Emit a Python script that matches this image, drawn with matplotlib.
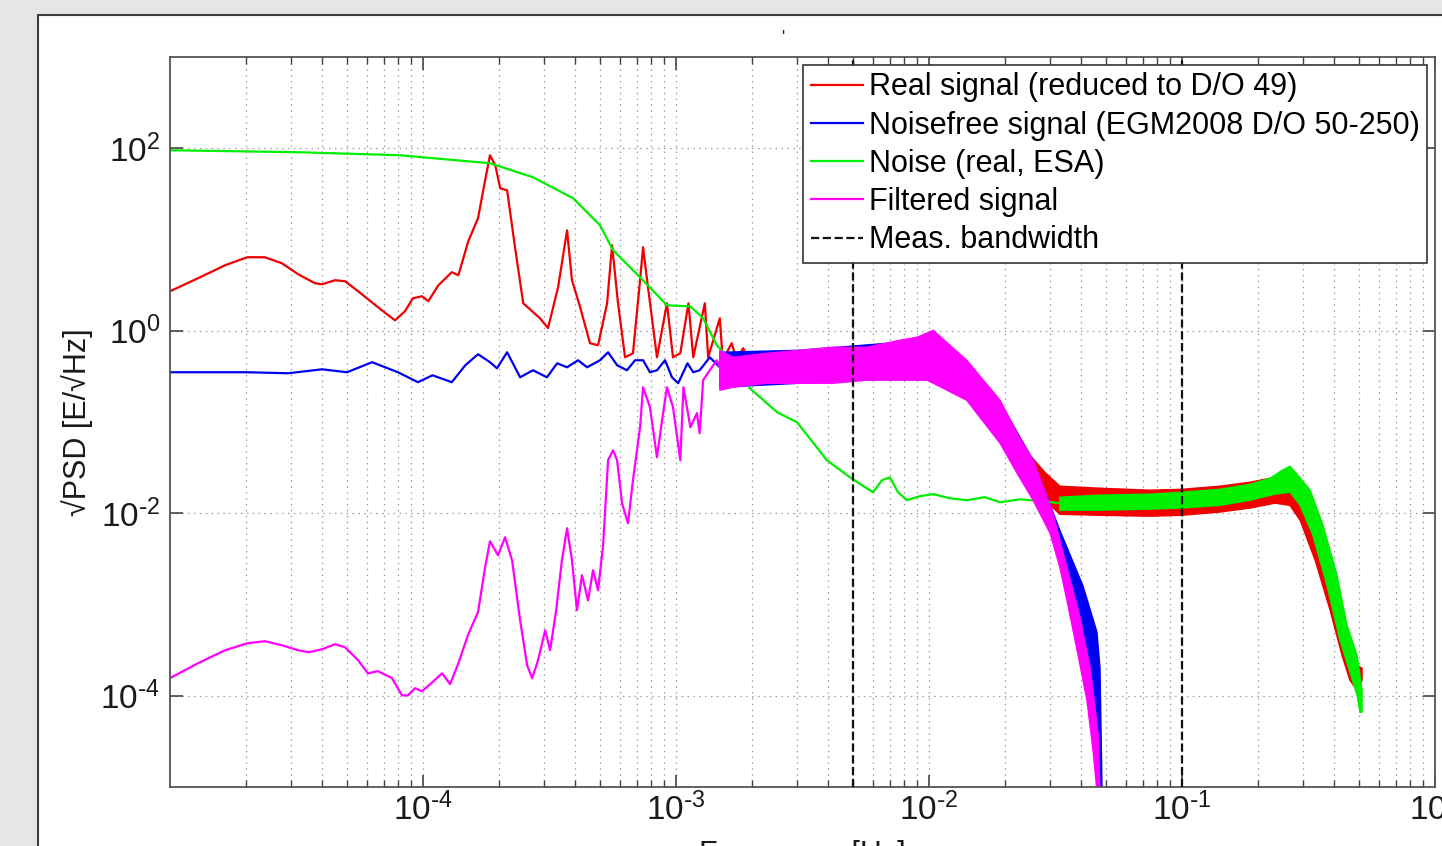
import numpy as np
import matplotlib.pyplot as plt
from matplotlib.patches import Rectangle
from matplotlib.ticker import LogLocator, NullFormatter, NullLocator, FuncFormatter

plt.rcParams['font.family'] = ['Liberation Sans', 'DejaVu Sans']
plt.rcParams['mathtext.default'] = 'regular'

# ---- values (frequency [Hz], sqrt(PSD) [E/sqrt(Hz)]) ----

# real signal, low frequency part
red_f = [1.00e-5, 1.29e-5, 1.65e-5, 2.02e-5, 2.37e-5, 2.77e-5, 3.21e-5, 3.74e-5, 3.99e-5, 4.49e-5,
         4.92e-5, 5.54e-5, 6.64e-5, 7.75e-5, 8.49e-5, 9.13e-5, 9.91e-5, 1.05e-4, 1.15e-4, 1.30e-4,
         1.38e-4, 1.51e-4, 1.65e-4, 1.76e-4, 1.84e-4, 1.93e-4, 2.02e-4, 2.15e-4, 2.31e-4, 2.49e-4,
         2.90e-4, 3.12e-4, 3.42e-4, 3.71e-4, 3.88e-4, 4.18e-4, 4.57e-4, 4.92e-4, 5.34e-4, 5.59e-4,
         5.90e-4, 6.29e-4, 6.76e-4, 7.21e-4, 7.41e-4, 7.75e-4, 8.41e-4, 9.21e-4, 9.73e-4, 1.04e-3,
         1.12e-3, 1.17e-3, 1.30e-3, 1.34e-3, 1.49e-3, 1.53e-3, 1.66e-3, 1.74e-3, 1.84e-3, 1.96e-3]
red_v = [2.71, 3.76, 5.22, 6.39, 6.39, 5.49, 4.16, 3.32, 3.23, 3.58,
         3.49, 2.71, 1.81, 1.30, 1.64, 2.27, 2.39, 2.11, 3.15, 4.38,
         4.06, 9.57, 17.1, 44.6, 83.8, 65.1, 36.4, 34.6, 8.23, 2.00,
         1.37, 1.07, 3.00, 12.6, 3.58, 1.81, 0.730, 0.694, 2.00, 8.65,
         2.00, 0.512, 0.567, 3.58, 8.23, 3.00, 0.512, 2.00, 0.512, 0.567,
         2.00, 0.512, 2.00, 0.512, 1.37, 0.475, 0.730, 0.475, 0.643, 0.475]

# real signal, noisy high frequency band (upper / lower envelope)
red_up_f = [2.51e-2, 2.87e-2, 3.29e-2, 4.74e-2, 7.47e-2, 0.100, 0.141, 0.186, 0.223, 0.267,
            0.293, 0.336, 0.385, 0.441, 0.470, 0.515, 0.515]
red_up_v = [4.32e-2, 2.81e-2, 1.98e-2, 1.88e-2, 1.79e-2, 1.83e-2, 1.98e-2, 2.19e-2, 2.42e-2, 2.68e-2,
            2.30e-2, 8.38e-3, 2.37e-3, 4.60e-4, 2.33e-4, 2.00e-4, 1.48e-4]
red_lo_f = [2.51e-2, 2.87e-2, 3.29e-2, 4.74e-2, 7.47e-2, 0.100, 0.141, 0.186, 0.233, 0.267,
            0.293, 0.336, 0.385, 0.429, 0.461, 0.492]
red_lo_v = [2.30e-2, 1.39e-2, 9.75e-3, 9.50e-3, 9.27e-3, 9.50e-3, 1.03e-2, 1.14e-2, 1.29e-2, 1.22e-2,
            8.38e-3, 3.05e-3, 8.65e-4, 2.78e-4, 1.48e-4, 1.15e-4]

# noisefree signal
blue_f = [1.00e-5, 2.02e-5, 2.93e-5, 3.99e-5, 5.01e-5, 6.29e-5, 7.96e-5, 9.55e-5, 1.09e-4, 1.30e-4,
          1.47e-4, 1.65e-4, 1.84e-4, 1.96e-4, 2.15e-4, 2.42e-4, 2.72e-4, 3.09e-4, 3.39e-4, 3.71e-4,
          4.10e-4, 4.45e-4, 5.01e-4, 5.39e-4, 5.85e-4, 6.40e-4, 6.89e-4, 7.41e-4, 7.89e-4, 8.41e-4,
          9.05e-4, 9.64e-4, 1.02e-3, 1.11e-3, 1.17e-3, 1.24e-3, 1.36e-3, 1.49e-3]
blue_v = [0.351, 0.351, 0.342, 0.378, 0.351, 0.452, 0.351, 0.273, 0.325, 0.273,
          0.419, 0.553, 0.452, 0.388, 0.581, 0.309, 0.369, 0.309, 0.440, 0.398,
          0.475, 0.398, 0.475, 0.581, 0.419, 0.369, 0.475, 0.475, 0.351, 0.369,
          0.475, 0.309, 0.266, 0.440, 0.351, 0.369, 0.512, 0.398]
blue_up_f = [1.49e-3, 3.09e-3, 7.68e-3, 1.04e-2, 1.41e-2, 1.91e-2, 2.58e-2, 3.29e-2, 4.06e-2, 4.61e-2,
             4.74e-2, 4.83e-2]
blue_up_v = [0.581, 0.611, 0.748, 0.939, 0.452, 0.165, 3.81e-2, 6.5e-3, 1.6e-3, 5.0e-4,
             2.05e-4, 9.2e-6]
blue_lo_f = [1.49e-3, 3.09e-3, 7.68e-3, 1.04e-2, 1.41e-2, 1.91e-2, 2.58e-2, 3.15e-2, 3.61e-2, 4.14e-2,
             4.45e-2, 4.66e-2]
blue_lo_v = [0.240, 0.266, 0.302, 0.287, 0.182, 6.31e-2, 1.58e-2, 5.06e-3, 1.43e-3, 4.06e-4,
             8.93e-5, 9.2e-6]

# noise
green_f = [1.00e-5, 3.26e-5, 8.11e-5, 1.84e-4, 2.72e-4, 3.92e-4, 5.01e-4, 5.64e-4, 7.41e-4, 9.21e-4,
           1.14e-3, 1.28e-3, 1.45e-3, 1.68e-3, 1.96e-3, 2.51e-3, 3.01e-3, 3.95e-3, 4.87e-3, 5.43e-3,
           6.01e-3, 6.52e-3, 7.01e-3, 7.54e-3, 8.18e-3, 9.21e-3, 1.04e-2, 1.21e-2, 1.41e-2, 1.66e-2,
           1.91e-2, 2.29e-2, 2.75e-2, 3.29e-2]
green_v = [95.1, 90.4, 83.8, 68.5, 48.1, 28.3, 14.3, 7.62, 3.57, 1.90,
           1.85, 1.37, 0.693, 0.452, 0.234, 0.128, 0.0993, 0.0381, 0.0248, 0.0203,
           0.0170, 0.0230, 0.0248, 0.0170, 0.0139, 0.0154, 0.0162, 0.0146, 0.0139, 0.0150,
           0.0132, 0.0142, 0.0136, 0.0129]
green_up_f = [3.29e-2, 4.74e-2, 7.47e-2, 0.100, 0.141, 0.186, 0.223, 0.249, 0.267, 0.287,
              0.321, 0.361, 0.410, 0.449, 0.492, 0.515, 0.515]
green_up_v = [1.50e-2, 1.58e-2, 1.62e-2, 1.70e-2, 1.83e-2, 2.08e-2, 2.42e-2, 2.96e-2, 3.27e-2, 2.61e-2,
              1.79e-2, 7.39e-3, 2.09e-3, 5.92e-4, 2.78e-4, 1.15e-4, 6.60e-5]
green_lo_f = [3.29e-2, 4.74e-2, 7.47e-2, 0.100, 0.141, 0.186, 0.233, 0.267, 0.293, 0.329,
              0.374, 0.421, 0.461, 0.492, 0.505]
green_lo_v = [1.08e-2, 1.08e-2, 1.11e-2, 1.14e-2, 1.22e-2, 1.39e-2, 1.62e-2, 1.70e-2, 1.22e-2, 5.74e-3,
              1.63e-3, 4.06e-4, 1.81e-4, 1.01e-4, 6.60e-5]

# filtered signal
mag_f = [1.00e-5, 1.29e-5, 1.65e-5, 2.02e-5, 2.37e-5, 2.77e-5, 3.21e-5, 3.54e-5, 3.99e-5, 4.49e-5,
         4.92e-5, 5.54e-5, 6.06e-5, 6.64e-5, 7.54e-5, 8.26e-5, 8.72e-5, 9.30e-5, 9.91e-5, 1.09e-4,
         1.19e-4, 1.28e-4, 1.38e-4, 1.51e-4, 1.65e-4, 1.76e-4, 1.84e-4, 1.98e-4, 2.11e-4, 2.25e-4,
         2.42e-4, 2.58e-4, 2.70e-4, 2.85e-4, 3.04e-4, 3.18e-4, 3.36e-4, 3.54e-4, 3.71e-4, 3.88e-4,
         4.06e-4, 4.25e-4, 4.49e-4, 4.70e-4, 4.92e-4, 5.15e-4, 5.39e-4, 5.64e-4, 5.85e-4, 6.12e-4,
         6.46e-4, 6.76e-4, 7.21e-4, 7.41e-4, 7.89e-4, 8.41e-4, 8.81e-4, 9.21e-4, 9.73e-4, 1.04e-3,
         1.07e-3, 1.14e-3, 1.21e-3, 1.24e-3, 1.28e-3, 1.36e-3, 1.45e-3, 1.49e-3]
mag_v = [1.56e-4, 2.27e-4, 3.15e-4, 3.76e-4, 3.96e-4, 3.58e-4, 3.15e-4, 3.00e-4, 3.23e-4, 3.67e-4,
         3.40e-4, 2.45e-4, 1.76e-4, 1.86e-4, 1.56e-4, 1.01e-4, 1.01e-4, 1.21e-4, 1.12e-4, 1.41e-4,
         1.76e-4, 1.34e-4, 2.27e-4, 4.72e-4, 8.23e-4, 2.56e-3, 4.93e-3, 3.46e-3, 5.46e-3, 3.05e-3,
         6.72e-4, 2.16e-4, 1.56e-4, 2.45e-4, 5.22e-4, 3.15e-4, 8.65e-4, 3.05e-3, 6.85e-3, 3.05e-3,
         8.65e-4, 2.09e-3, 1.11e-3, 2.37e-3, 1.43e-3, 4.46e-3, 3.81e-2, 4.90e-2, 3.81e-2, 1.29e-2,
         7.77e-3, 2.30e-2, 8.76e-2, 0.240, 0.145, 4.11e-2, 0.105, 0.240, 0.145, 3.81e-2,
         0.240, 8.76e-2, 0.125, 7.53e-2, 0.287, 0.369, 0.475, 0.398]
mag_up_f = [1.49e-3, 1.68e-3, 2.29e-3, 3.09e-3, 4.17e-3, 5.69e-3, 7.68e-3, 8.97e-3, 1.04e-2, 1.21e-2,
            1.41e-2, 1.91e-2, 2.23e-2, 2.58e-2, 3.09e-2, 3.51e-2, 3.95e-2, 4.33e-2, 4.66e-2, 4.74e-2]
mag_up_v = [0.611, 0.512, 0.567, 0.611, 0.660, 0.660, 0.787, 0.849, 1.01, 0.694,
            0.475, 0.173, 7.53e-2, 3.81e-2, 1.00e-2, 2.56e-3, 7.25e-4, 2.05e-4, 3.88e-5, 9.2e-6]
mag_lo_f = [1.49e-3, 1.68e-3, 2.29e-3, 3.09e-3, 4.17e-3, 5.69e-3, 7.68e-3, 9.82e-3, 1.04e-2, 1.41e-2,
            1.91e-2, 2.23e-2, 2.58e-2, 3.01e-2, 3.29e-2, 3.51e-2, 3.85e-2, 4.21e-2, 4.45e-2, 4.61e-2]
mag_lo_v = [0.223, 0.240, 0.266, 0.266, 0.266, 0.287, 0.287, 0.287, 0.266, 0.173,
            5.85e-2, 2.74e-2, 1.39e-2, 6.04e-3, 2.56e-3, 1.11e-3, 3.15e-4, 8.93e-5, 2.53e-5, 9.2e-6]

bandwidth = [5e-3, 1e-1]
labels = ['Real signal (reduced to D/O 49)', 'Noisefree signal (EGM2008 D/O 50-250)',
          'Noise (real, ESA)', 'Filtered signal', 'Meas. bandwidth']


def band(ax, fu, vu, fl, vl, color, z):
    xs = np.concatenate([fu, fl[::-1]])
    ys = np.concatenate([vu, vl[::-1]])
    ax.fill(xs, ys, facecolor=color, edgecolor=color, lw=1.0, zorder=z)


def pow10(v, pos):
    e = int(round(np.log10(v)))
    if e < 0:
        return r'$10^{\text{-}%d}$' % (-e)
    return r'$10^{%d}$' % e


def main():
    fig = plt.figure(figsize=(14.42, 8.46), dpi=100, facecolor='#e6e6e6')
    fig.add_artist(Rectangle((38 / 1442, -0.1), 1.2, 1.1 - 15 / 846, transform=fig.transFigure,
                             facecolor='white', edgecolor='#3c3c3c', lw=1.5, zorder=-1))
    ax = fig.add_axes([170 / 1442, 59 / 846, 1265 / 1442, 730 / 846])
    ax.set_xscale('log')
    ax.set_yscale('log')

    cr, cb, cg, cm = '#f00000', '#0000f0', '#00ee00', '#ff00ff'
    lw = 1.6
    h_red, = ax.plot(red_f, red_v, color=cr, lw=lw, zorder=2)
    band(ax, red_up_f, red_up_v, red_lo_f, red_lo_v, cr, 2)
    h_blue, = ax.plot(blue_f, blue_v, color=cb, lw=lw, zorder=2.1)
    band(ax, blue_up_f, blue_up_v, blue_lo_f, blue_lo_v, cb, 2.1)
    h_green, = ax.plot(green_f, green_v, color=cg, lw=lw, zorder=2.2)
    band(ax, green_up_f, green_up_v, green_lo_f, green_lo_v, cg, 2.2)
    h_mag, = ax.plot(mag_f, mag_v, color=cm, lw=lw, zorder=2.3)
    band(ax, mag_up_f, mag_up_v, mag_lo_f, mag_lo_v, cm, 2.3)
    h_bw = None
    for f in bandwidth:
        h_bw = ax.axvline(f, color='#111111', ls='--', lw=1.6, zorder=4)

    ax.set_xlim(1e-5, 1)
    ax.set_ylim(1e-5, 1e3)
    ax.set_xticks([1e-4, 1e-3, 1e-2, 1e-1, 1])
    ax.xaxis.set_minor_locator(LogLocator(base=10, subs=np.arange(2, 10), numticks=30))
    ax.xaxis.set_minor_formatter(NullFormatter())
    ax.set_yticks([1e-4, 1e-2, 1, 1e2])
    ax.yaxis.set_minor_locator(NullLocator())
    ax.xaxis.set_major_formatter(FuncFormatter(pow10))
    ax.yaxis.set_major_formatter(FuncFormatter(pow10))

    ax.set_axisbelow(True)
    ax.grid(True, which='major', axis='both', color='#9a9a9a', ls=(0, (1.2, 3.5)), lw=0.9)
    ax.grid(True, which='minor', axis='x', color='#9a9a9a', ls=(0, (1.2, 3.5)), lw=0.9)

    ax.tick_params(which='both', direction='in', top=True, right=True, color='#444444',
                   labelsize=24, labelcolor='#1a1a1a')
    ax.tick_params(which='major', length=9, width=1.2)
    ax.tick_params(which='minor', length=5, width=1.0)
    ax.tick_params(axis='x', pad=4)
    ax.tick_params(axis='y', pad=7)
    for s in ax.spines.values():
        s.set_color('#555555')
        s.set_linewidth(1.3)

    ax.set_ylabel('√PSD [E/√Hz]', fontsize=22, labelpad=5, color='#1a1a1a')
    ax.set_xlabel('Frequency [Hz]', fontsize=22, labelpad=9, color='#1a1a1a')
    fig.text(783 / 1442, 1 - 38 / 846, "'", fontsize=12, ha='center', va='center', color='#222222')

    leg = ax.legend([h_red, h_blue, h_green, h_mag, h_bw], labels, loc='upper right', fontsize=22,
                    frameon=True, fancybox=False, framealpha=1, edgecolor='#333333',
                    labelspacing=0.27, borderpad=0.25, handlelength=1.7, handletextpad=0.2,
                    borderaxespad=0.25)
    leg.get_frame().set_linewidth(1.2)
    leg.set_zorder(5)

    fig.savefig('out.png', dpi=100, facecolor=fig.get_facecolor())


if __name__ == '__main__':
    main()
